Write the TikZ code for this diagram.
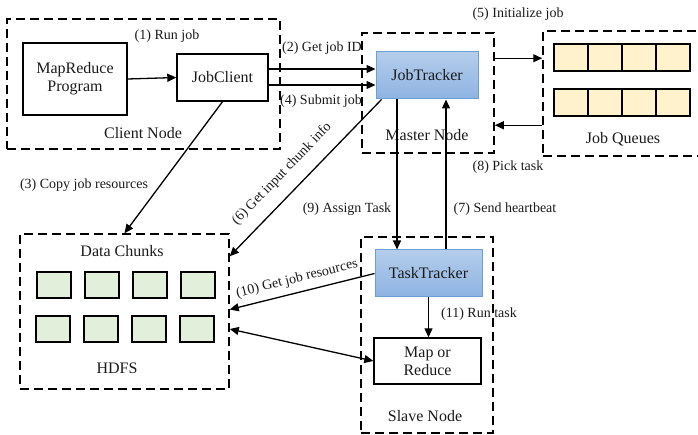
\documentclass[tikz,border=0pt]{standalone}
\usepackage{fontspec}
\setmainfont{Liberation Serif}
\usetikzlibrary{arrows.meta,calc}
\definecolor{bluetop}{HTML}{B4CDEB}
\definecolor{bluebot}{HTML}{8EB3E2}
\definecolor{blueborder}{HTML}{6A9FD8}
\definecolor{qfill}{HTML}{FFF2CC}
\definecolor{gfill}{HTML}{E2EFDA}
\definecolor{txt}{HTML}{1A1A1A}
\begin{document}
\begin{tikzpicture}[x=1pt,y=-1pt,
  every node/.style={text=txt},
  box/.style={draw,line width=1.4pt,align=center,font=\fontsize{16}{18}\selectfont,inner sep=0pt},
  dbox/.style={draw,dash pattern=on 9pt off 5pt,line width=1.5pt,inner sep=0pt},
  bluebox/.style={draw=blueborder,line width=1pt,top color=bluetop,bottom color=bluebot,font=\fontsize{16}{18}\selectfont,inner sep=0pt},
  arr/.style={line width=1.3pt,-{Triangle[length=9pt,width=8pt]}},
  barr/.style={line width=1.3pt,{Triangle[length=9pt,width=8pt]}-{Triangle[length=9pt,width=8pt]}},
  lbl/.style={font=\fontsize{14}{15}\selectfont,inner sep=0pt},
  ttl/.style={font=\fontsize{16}{17}\selectfont,inner sep=0pt},
  qcell/.style={draw,line width=2pt,fill=qfill,minimum width=34pt,minimum height=27pt,inner sep=0pt},
  gcell/.style={draw,line width=2pt,fill=gfill,minimum width=34pt,minimum height=26pt,inner sep=0pt}
]
\useasboundingbox (0,0) rectangle (698,435);

% dashed containers
\node[dbox,minimum width=273pt,minimum height=130pt] (CN) at (143.5,84) {};
\node[dbox,minimum width=132pt,minimum height=120pt] (MN) at (428,93) {};
\node[dbox,minimum width=175pt,minimum height=125pt] (JQ) at (630.5,93.5) {};
\node[dbox,minimum width=132pt,minimum height=196pt] (SN) at (427,335) {};
\node[dbox,minimum width=209pt,minimum height=155pt] (HD) at (124.5,311.5) {};

% boxes
\node[box,minimum width=104pt,minimum height=72pt] (MR) at (75,79) {MapReduce\\Program};
\node[box,minimum width=91pt,minimum height=47pt] (JC) at (222.5,77.5) {JobClient};
\node[bluebox,minimum width=102pt,minimum height=47pt] (JT) at (427,75.5) {JobTracker};
\node[bluebox,minimum width=107pt,minimum height=47pt] (TT) at (428.5,273.5) {TaskTracker};
\node[box,minimum width=107pt,minimum height=46pt] (MO) at (427.5,361) {Map or\\Reduce};

% queue cells
\foreach \i/\x in {1/571,2/605,3/639,4/673}{
  \node[qcell] (qa\i) at (\x,57.5) {};
  \node[qcell] (qb\i) at (\x,103) {};
}
% data chunks
\foreach \i/\x in {1/54,2/101.5,3/150,4/198}{
  \node[gcell] (ga\i) at (\x,285) {};
  \node[gcell] (gb\i) at (\x-1,328.5) {};
}

% titles
\node[ttl] (tCN) at (143,133) {Client Node};
\node[ttl] (tMN) at (427,135) {Master Node};
\node[ttl] (tJQ) at (623,139) {Job Queues};
\node[ttl] (tSN) at (425,416) {Slave Node};
\node[ttl] (tDC) at (122,251) {Data Chunks};
\node[ttl] (tHD) at (117,368) {HDFS};

% connectors
\draw[arr] (MR.east) -- (JC.west);
\draw[arr] ([yshift=8.5pt]JC.east) -- ([yshift=8.5pt]JC.east -| JT.west);
\draw[arr] ([yshift=-7.5pt]JC.east) -- ([yshift=-7.5pt]JC.east -| JT.west);
\draw[arr] ([yshift=-26pt]MN.north east) -- ([yshift=-26pt]MN.north east -| JQ.west);
\draw[arr] ([yshift=-93pt]MN.north east -| JQ.west) -- ([yshift=-93pt]MN.north east);
\draw[arr] (JC.south) -- (HD.north);
\draw[arr] ([xshift=6pt]JT.south west) -- ([yshift=-23pt]HD.north east);
\draw[arr] ([xshift=-30pt]JT.south) -- ([xshift=-30pt]JT.south |- TT.north);
\draw[arr] ([xshift=19pt]JT.south |- TT.north) -- ([xshift=19pt]JT.south);
\draw[arr] (TT.west) -- ([yshift=2pt]HD.east);
\draw[barr] ([yshift=-17.5pt]HD.east) -- (MO.west);
\draw[arr] (TT.south) -- (TT.south |- MO.north);

% labels
\node[lbl] (l1) at (167,36) {(1) Run job};
\node[lbl] (l2) at (322,48) {(2) Get job ID};
\node[lbl] (l4) at (321,101) {(4) Submit job};
\node[lbl] (l5) at (518,14) {(5) Initialize job};
\node[lbl] (l8) at (508,167) {(8) Pick task};
\node[lbl] (l3) at (84,185) {(3) Copy job resources};
\node[lbl,rotate=46] (l6) at (282,174) {(6) Get input chunk info};
\node[lbl] (l9) at (347,209) {(9) Assign Task};
\node[lbl] (l7) at (505,209) {(7) Send heartbeat};
\node[lbl,rotate=14] (l10) at (297,279) {(10) Get job resources};
\node[lbl] (l11) at (479,314) {(11) Run task};
\end{tikzpicture}
\end{document}
